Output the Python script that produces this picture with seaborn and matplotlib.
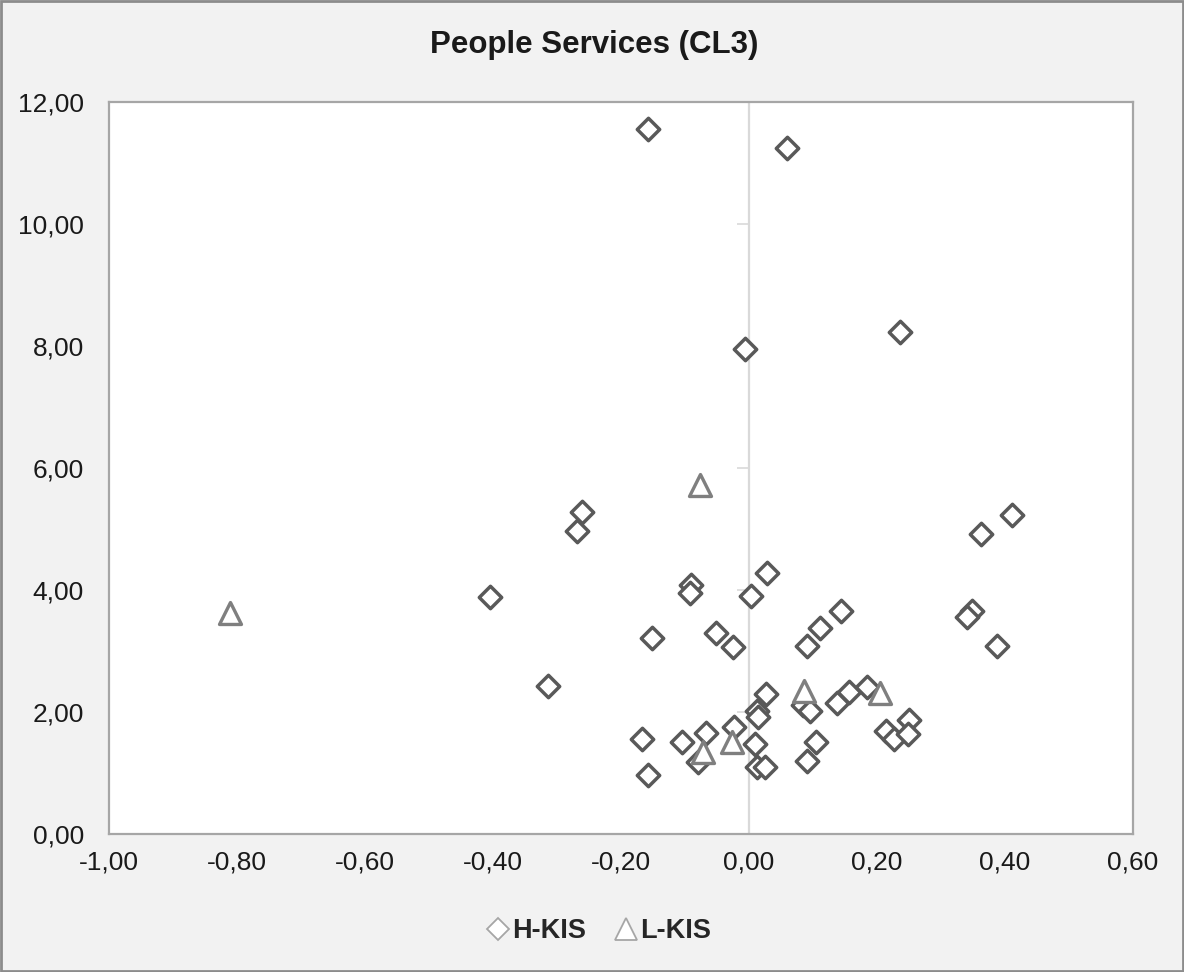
import matplotlib
matplotlib.use("Agg")
import matplotlib.pyplot as plt
from matplotlib.ticker import FuncFormatter, FixedLocator
from matplotlib.lines import Line2D
import seaborn as sns
import numpy as np

sns.set_style("white")
plt.rcParams['font.family'] = ['Liberation Sans', 'DejaVu Sans']

title = "People Services (CL3)"
series_names = ["H-KIS", "L-KIS"]

h_x = [-0.158, 0.059, -0.006, 0.236, -0.261, -0.269, -0.405, -0.314, 0.411, 0.363,
       0.348, 0.340, 0.387, 0.028, -0.091, -0.092, 0.003, 0.144, 0.111, 0.091,
       -0.152, -0.052, -0.025, 0.027, 0.084, 0.095, 0.137, 0.156, 0.184, 0.012,
       0.014, 0.250, 0.214, 0.227, 0.248, -0.167, -0.105, -0.067, -0.023, -0.080,
       0.009, 0.105, 0.013, 0.025, 0.091, -0.158]
h_y = [11.56, 11.25, 7.95, 8.23, 5.28, 4.97, 3.89, 2.43, 5.23, 4.92,
       3.66, 3.56, 3.08, 4.28, 4.08, 3.95, 3.90, 3.66, 3.38, 3.08,
       3.21, 3.30, 3.07, 2.30, 2.11, 2.02, 2.15, 2.33, 2.41, 2.02,
       1.92, 1.87, 1.69, 1.56, 1.64, 1.56, 1.51, 1.66, 1.75, 1.18,
       1.48, 1.51, 1.10, 1.10, 1.20, 0.97]

l_x = [-0.811, -0.077, 0.086, 0.205, -0.027, -0.072]
l_y = [3.62, 5.72, 2.34, 2.31, 1.51, 1.34]

x_ticks = [-1.0, -0.8, -0.6, -0.4, -0.2, 0.0, 0.2, 0.4, 0.6]
y_ticks = [0, 2, 4, 6, 8, 10, 12]

fig = plt.figure(figsize=(11.84, 9.72), dpi=100, facecolor="#f2f2f2")
ax = fig.add_axes([109/1184, 1 - 834/972, 1024/1184, 732/972])
ax.set_facecolor("white")

# zero line and its tick marks
ax.axvline(0, color="#d9d9d9", lw=1.6, zorder=1)
ax.plot(np.zeros(len(y_ticks)), y_ticks, ls="none", marker=0, ms=9,
        color="#d9d9d9", mew=1.2, zorder=1)

sns.scatterplot(x=h_x, y=h_y, ax=ax, marker="D", s=130, facecolor="white",
                edgecolor="#595959", linewidth=2.5, zorder=3)
sns.scatterplot(x=l_x, y=l_y, ax=ax, marker="^", s=250, facecolor="white",
                edgecolor="#7f7f7f", linewidth=2.4, zorder=3)

ax.set_xlim(-1.0, 0.6)
ax.set_ylim(0, 12)
ax.xaxis.set_major_locator(FixedLocator(x_ticks))
ax.yaxis.set_major_locator(FixedLocator(y_ticks))
fmt = FuncFormatter(lambda v, p: f"{v:.2f}".replace(".", ","))
ax.xaxis.set_major_formatter(fmt)
ax.yaxis.set_major_formatter(fmt)
ax.tick_params(axis="both", length=0, labelsize=19, colors="#1a1a1a")
ax.tick_params(axis="y", pad=18)
ax.tick_params(axis="x", pad=12)
for s in ax.spines.values():
    s.set_color("#a6a6a6")
    s.set_linewidth(1.6)
ax.set_xlabel("")
ax.set_ylabel("")

fig.text(0.502, 1 - 45/972, title, ha="center", va="center",
         fontsize=22.5, fontweight="bold", color="#1a1a1a")

handles = [
    Line2D([], [], ls="none", marker="D", ms=11, mfc="white", mec="#a6a6a6", mew=1.3),
    Line2D([], [], ls="none", marker="^", ms=16, mfc="white", mec="#a6a6a6", mew=1.3),
]
leg = fig.legend(handles, series_names, loc="center", bbox_to_anchor=(0.507, 1 - 931/972),
                 ncol=2, frameon=False, handlelength=0.6, handletextpad=0.2,
                 columnspacing=1.2, prop={"size": 19.5, "weight": "bold"})

# figure border
fig.patches.append(plt.Rectangle((0.001, 0.001), 0.998, 0.998, transform=fig.transFigure,
                                 fill=False, edgecolor="#8c8c8c", lw=2))

fig.savefig("out.png", dpi=100, facecolor=fig.get_facecolor())
